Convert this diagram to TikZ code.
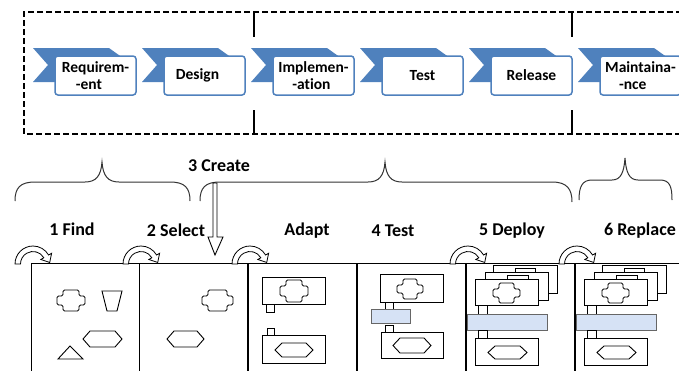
\documentclass[tikz,border=0pt]{standalone}
\usepackage{fontspec}
\setmainfont[Ligatures={NoCommon}]{Carlito}
\usetikzlibrary{calc}
\definecolor{obl}{HTML}{4F81BD}
\definecolor{barfill}{HTML}{D6E2F5}
\newcommand\crossshp[5]{%
  ({#1+#5},{#2}) -- ({#3-#5},{#2}) -- ({#3-#5},{#2+#5}) -- ({#3},{#2+#5}) -- ({#3},{#4-#5}) -- ({#3-#5},{#4-#5}) -- ({#3-#5},{#4}) -- ({#1+#5},{#4}) -- ({#1+#5},{#4-#5}) -- ({#1},{#4-#5}) -- ({#1},{#2+#5}) -- ({#1+#5},{#2+#5}) -- cycle}
\newcommand\hexshp[4]{%
  ({#1},{(#2+#4)/2}) -- ({#1+7},{#2}) -- ({#3-7},{#2}) -- ({#3},{(#2+#4)/2}) -- ({#3-7},{#4}) -- ({#1+7},{#4}) -- cycle}
\newcommand\chevshp[1]{%
  ({#1},48) -- ({#1+76},48) -- ({#1+90},58) -- ({#1+90},82) -- ({#1},82) -- ({#1+15},65) -- cycle}
\tikzset{
  stagebox/.style={draw=obl, line width=1.5pt, rounded corners=3pt, fill=white,
    minimum width=81pt, minimum height=39pt, align=left, inner sep=1pt,
    font=\fontsize{15.5}{17.5}\selectfont\bfseries},
  chev/.style={fill=obl, draw=none},
  lbl/.style={font=\fontsize{18}{20}\selectfont\bfseries, inner sep=1pt},
  dbox/.style={line width=2pt, dash pattern=on 6pt off 3pt},
  divider/.style={line width=1.8pt},
  bracestyle/.style={line width=1pt, draw=black!80},
  panel/.style={draw, line width=1.2pt, fill=white, minimum width=108pt, minimum height=120pt, anchor=north west, inner sep=0pt},
  shp/.style={draw, line width=0.9pt, fill=white},
  bar/.style={draw=black!60, line width=0.9pt, fill=barfill},
  curvearrow/.style={draw, line width=0.8pt, fill=white},
  hollowarrow/.style={draw, line width=0.9pt, fill=white}
}
\begin{document}
\begin{tikzpicture}[x=1pt,y=-1pt]
\useasboundingbox (0,0) rectangle (679,370);
\clip (0,0) rectangle (679,370);
% top dashed frame
\draw[dbox] (700,12) -- (24,12) -- (24,134) -- (700,134);
\draw[divider] (254,12) -- (254,37);
\draw[divider] (254,110) -- (254,134);
\draw[divider] (572,12) -- (572,37);
\draw[divider] (572,110) -- (572,134);
% chevrons
\foreach \c in {33,142,251,360,469,578} {\fill[chev] \chevshp{\c};}
\node[stagebox] (req) at (95.5,75.5) {Requirem-\\\hspace*{0.9em}-ent};
\node[stagebox] (des) at (204.5,75.5) {Design\hspace*{0.9em}};
\node[stagebox] (imp) at (313.5,75.5) {Implemen-\\\hspace*{0.9em}-ation};
\node[stagebox] (tst) at (422.5,75.5) {Test};
\node[stagebox] (rel) at (531.5,75.5) {Release};
\node[stagebox] (mnt) at (640.5,75.5) {Maintaina-\\\hspace*{0.9em}-nce};
% braces
\draw[bracestyle] (15,201) .. controls (15,188) and (20,182) .. (35,182) -- (85,182)
  .. controls (96,182) and (101,176) .. (102,162) .. controls (103,176) and (108,182) .. (119,182)
  -- (170,182) .. controls (185,182) and (190,188) .. (190,201);
\draw[bracestyle] (200,201) .. controls (200,188) and (205,182) .. (220,182) -- (368,182)
  .. controls (379,182) and (384,176) .. (385,162) .. controls (386,176) and (391,182) .. (402,182)
  -- (552,182) .. controls (567,182) and (572,189) .. (572,202);
\draw[bracestyle] (579,200) .. controls (579,187) and (582,180) .. (592,180) -- (612,180)
  .. controls (621,180) and (624,172) .. (625,158) .. controls (626,172) and (629,180) .. (638,180)
  -- (660,180) .. controls (670,180) and (672,187) .. (672,200);
% hollow down arrow
\draw[hollowarrow] (213,183) -- (217,183) -- (217,237) -- (223,237) -- (215,255) -- (208,237) -- (213,237) -- cycle;
% labels
\node[lbl] (create) at (219,166) {3 Create};
\node[lbl] (find) at (72,229) {1 Find};
\node[lbl] (select) at (176,230) {2 Select};
\node[lbl] (adapt) at (307,231) {Adapt};
\node[lbl] (test) at (393,231) {4 Test};
\node[lbl] (deploy) at (512,231) {5 Deploy};
\node[lbl] (replace) at (640,231) {6 Replace};
% panels
\node[panel] (p1) at (31,263) {};
\node[panel] (p2) at (139,263) {};
\node[panel] (p3) at (248,263) {};
\node[panel] (p4) at (357,263) {};
\node[panel] (p5) at (466,263) {};
\node[panel, minimum width=140pt] (p6) at (575,263) {};
% curved arrows
\foreach \P in {31,139,248,466,575} {
  \coordinate (ca) at (\P+2,264);
  \draw[curvearrow] ($(ca)+(180:18)$) arc[start angle=180, end angle=330, radius=18]
    -- ($(ca)+(330:21.5)$) -- ($(ca)+(330:15.25)+(3.5,6.1)$) -- ($(ca)+(330:9)$)
    -- ($(ca)+(330:12.5)$) arc[start angle=330, end angle=180, radius=12.5] -- cycle;
}
% panel 1
\draw[shp, rounded corners=1.5pt] \crossshp{57}{290}{85}{311}{6};
\draw[shp] (102,291) -- (122,291) -- (117,311) -- (107,311) -- cycle;
\draw[shp] \hexshp{83}{331}{122}{347};
\draw[shp] (70,346) -- (83,359) -- (58,359) -- cycle;
% panel 2
\draw[shp, rounded corners=1.5pt] \crossshp{202}{290}{233}{311}{6};
\draw[shp] \hexshp{167}{331}{204}{347};
% panel 3
\draw[shp] (262,277) rectangle (325,304);
\draw[shp, rounded corners=1.5pt] \crossshp{280}{280}{308}{302}{6};
\draw[shp] (266,304) rectangle (274,312);
\draw[shp] (267,328) rectangle (274,335);
\draw[shp] (262,335) rectangle (325,363);
\draw[shp] \hexshp{275}{343}{313}{357};
% panel 4
\draw[shp] (380,274) rectangle (443,302);
\draw[shp, rounded corners=1.5pt] \crossshp{397}{279}{423}{299}{6};
\draw[shp] (385,302) rectangle (393,309);
\draw[bar] (371,309) rectangle (410,323);
\draw[shp] (385,325) rectangle (393,332);
\draw[shp] (381,332) rectangle (443,358);
\draw[shp] \hexshp{393}{338}{431}{353};
% panels 5 and 6
\foreach \dx in {0,109} {
\begin{scope}[xshift=\dx pt]
\draw[shp] (493,265) rectangle (557,293);
\draw[shp] (515,268) rectangle (535,272);
\draw[shp] (485,272) rectangle (548,300);
\draw[shp] (507,275) rectangle (528,279);
\draw[shp] (475,279) rectangle (538,305);
\draw[shp, rounded corners=1.5pt] \crossshp{493}{283}{520}{303}{6};
\draw[shp] (478,305) rectangle (487,314);
\draw[bar] (467,314) rectangle (547,330);
\draw[shp] (478,330) rectangle (487,338);
\draw[shp] (475,338) rectangle (538,365);
\draw[shp] \hexshp{488}{346}{527}{359};
\end{scope}
}
\end{tikzpicture}
\end{document}
